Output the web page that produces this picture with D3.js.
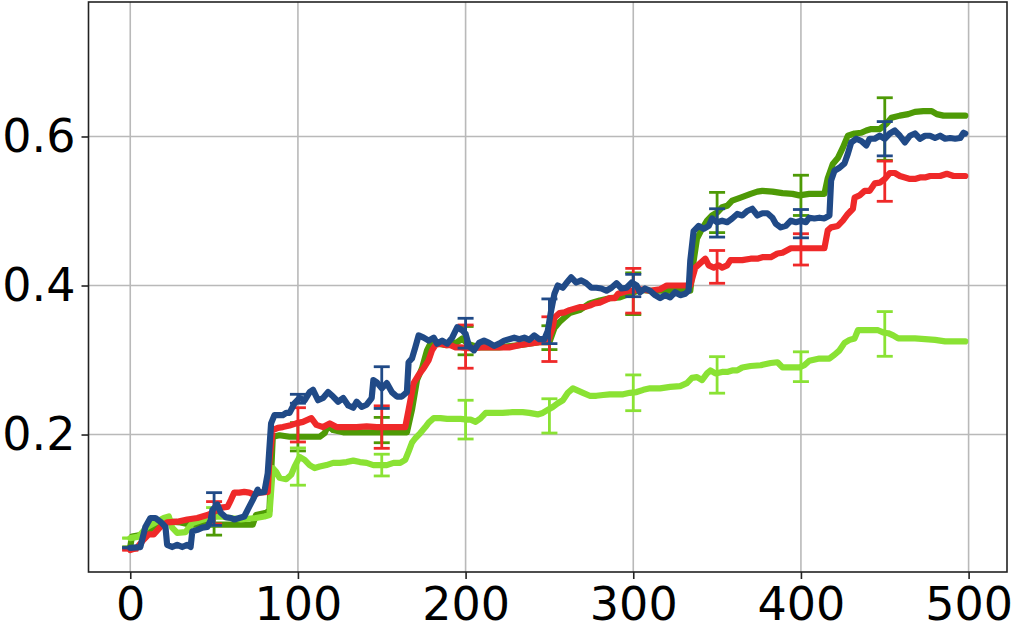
<!DOCTYPE html>
<html>
<head>
<meta charset="utf-8">
<script src="https://cdn.jsdelivr.net/npm/d3@7"></script>
<style>
  html, body { margin: 0; padding: 0; background: #fff; }
  svg { display: block; }
  text { font-family: "DejaVu Sans", sans-serif; }
</style>
</head>
<body>
<svg id="chart" width="1015" height="633"></svg>
<script>
// ---------------- data ----------------
const xTicks = [0, 100, 200, 300, 400, 500];
const yTicks = [0.2, 0.4, 0.6];

const darkGreenData = [[0,0.049],[1,0.063],[6,0.065],[10,0.069],[14,0.076],[18,0.082],[24,0.083],[30,0.082],[36,0.079],[45,0.079],[55,0.079],[65,0.079],[73,0.079],[75,0.092],[81,0.095],[83,0.098],[85,0.197],[89,0.199],[95,0.197],[101,0.197],[107,0.197],[113,0.197],[116,0.202],[118,0.212],[121,0.206],[127,0.203],[135,0.203],[143,0.203],[151,0.203],[159,0.203],[165,0.203],[168,0.233],[171,0.273],[174,0.289],[177,0.313],[179,0.322],[183,0.322],[189,0.320],[195,0.324],[198,0.329],[201,0.322],[208,0.317],[220,0.317],[232,0.320],[244,0.324],[250,0.324],[253,0.343],[256,0.351],[259,0.357],[262,0.363],[268,0.367],[274,0.376],[280,0.380],[286,0.383],[292,0.384],[298,0.389],[304,0.394],[310,0.393],[320,0.393],[334,0.393],[336,0.433],[338,0.463],[341,0.476],[344,0.487],[347,0.494],[350,0.498],[353,0.505],[356,0.507],[359,0.514],[364,0.518],[370,0.523],[374,0.526],[377,0.527],[383,0.526],[389,0.524],[395,0.523],[399,0.521],[405,0.523],[414,0.523],[416,0.544],[419,0.563],[422,0.571],[425,0.585],[428,0.601],[432,0.604],[436,0.605],[439,0.608],[442,0.610],[447,0.610],[451,0.617],[454,0.625],[459,0.628],[464,0.630],[468,0.633],[473,0.634],[478,0.634],[481,0.630],[485,0.628],[491,0.628],[498,0.628]];

const lightGreenData = [[0,0.061],[5,0.063],[10,0.076],[15,0.082],[20,0.088],[23,0.090],[25,0.075],[28,0.068],[33,0.069],[37,0.081],[42,0.085],[48,0.089],[54,0.090],[60,0.088],[66,0.086],[70,0.087],[75,0.088],[80,0.090],[83,0.092],[85,0.155],[87,0.150],[89,0.142],[93,0.140],[96,0.146],[98,0.157],[101,0.170],[104,0.166],[107,0.159],[110,0.155],[113,0.157],[117,0.159],[121,0.162],[125,0.162],[129,0.163],[133,0.165],[137,0.163],[141,0.162],[145,0.159],[149,0.159],[153,0.159],[157,0.162],[161,0.162],[164,0.166],[166,0.177],[168,0.189],[170,0.195],[173,0.202],[176,0.210],[178,0.216],[181,0.222],[185,0.222],[189,0.221],[192,0.221],[197,0.221],[201,0.220],[203,0.220],[206,0.217],[209,0.222],[212,0.229],[216,0.229],[222,0.229],[228,0.230],[234,0.230],[238,0.229],[243,0.227],[246,0.229],[249,0.233],[252,0.237],[255,0.242],[258,0.246],[261,0.256],[264,0.262],[267,0.259],[270,0.256],[274,0.252],[278,0.252],[282,0.253],[286,0.254],[290,0.254],[294,0.254],[298,0.256],[302,0.257],[306,0.260],[310,0.262],[316,0.262],[322,0.264],[328,0.265],[332,0.269],[335,0.276],[338,0.277],[341,0.273],[344,0.282],[346,0.286],[349,0.282],[353,0.284],[356,0.284],[359,0.286],[362,0.286],[365,0.290],[370,0.292],[376,0.293],[382,0.296],[386,0.297],[389,0.290],[394,0.290],[399,0.290],[402,0.293],[405,0.299],[411,0.302],[417,0.302],[420,0.307],[423,0.313],[426,0.323],[429,0.327],[432,0.329],[434,0.340],[438,0.340],[442,0.340],[446,0.340],[449,0.337],[452,0.336],[455,0.333],[458,0.329],[462,0.329],[468,0.329],[474,0.328],[480,0.327],[486,0.325],[493,0.325],[498,0.325]];

const redData = [[0,0.045],[4,0.048],[8,0.059],[11,0.066],[14,0.066],[18,0.076],[22,0.082],[28,0.083],[34,0.086],[40,0.088],[46,0.092],[49,0.095],[54,0.102],[58,0.103],[60,0.112],[62,0.122],[65,0.122],[68,0.123],[71,0.122],[74,0.119],[77,0.122],[82,0.123],[83,0.166],[85,0.206],[88,0.209],[91,0.210],[95,0.212],[99,0.215],[103,0.217],[108,0.222],[111,0.213],[115,0.210],[119,0.215],[123,0.210],[129,0.210],[135,0.210],[141,0.211],[147,0.210],[153,0.210],[159,0.210],[164,0.210],[166,0.233],[169,0.269],[172,0.280],[175,0.289],[178,0.300],[180,0.313],[182,0.320],[185,0.322],[188,0.320],[191,0.320],[194,0.317],[197,0.317],[201,0.316],[205,0.316],[209,0.317],[215,0.317],[220,0.317],[226,0.317],[232,0.320],[238,0.322],[244,0.324],[249,0.324],[252,0.344],[253,0.357],[256,0.363],[259,0.364],[262,0.367],[265,0.369],[268,0.371],[271,0.371],[274,0.373],[277,0.376],[280,0.377],[283,0.380],[286,0.383],[289,0.383],[291,0.389],[294,0.391],[297,0.393],[300,0.393],[304,0.395],[310,0.393],[316,0.395],[320,0.400],[324,0.400],[330,0.400],[334,0.400],[337,0.424],[340,0.430],[343,0.436],[345,0.427],[348,0.424],[351,0.427],[353,0.424],[356,0.427],[358,0.434],[362,0.434],[365,0.434],[370,0.436],[374,0.436],[377,0.438],[382,0.438],[386,0.443],[389,0.444],[394,0.450],[398,0.450],[401,0.450],[405,0.450],[408,0.450],[411,0.450],[414,0.450],[416,0.474],[418,0.478],[422,0.480],[425,0.487],[428,0.496],[431,0.503],[432,0.518],[435,0.521],[438,0.527],[441,0.527],[444,0.537],[447,0.538],[450,0.543],[453,0.551],[456,0.551],[459,0.547],[462,0.545],[465,0.543],[468,0.543],[471,0.545],[474,0.545],[477,0.547],[483,0.547],[487,0.550],[491,0.547],[495,0.547],[498,0.547]];

const blueData = [[0,0.048],[6,0.049],[9,0.076],[12,0.088],[15,0.088],[18,0.083],[21,0.076],[22,0.052],[25,0.049],[28,0.052],[31,0.049],[34,0.052],[36,0.049],[37,0.070],[40,0.072],[43,0.075],[46,0.076],[48,0.085],[49,0.099],[52,0.106],[54,0.095],[57,0.089],[60,0.088],[62,0.086],[65,0.088],[68,0.090],[70,0.099],[73,0.112],[76,0.126],[77,0.122],[80,0.123],[82,0.148],[84,0.215],[86,0.226],[91,0.226],[93,0.229],[95,0.229],[98,0.242],[101,0.249],[104,0.246],[107,0.257],[109,0.260],[112,0.246],[115,0.249],[118,0.257],[121,0.251],[124,0.244],[127,0.249],[130,0.239],[133,0.236],[135,0.244],[138,0.237],[141,0.240],[144,0.249],[145,0.273],[147,0.270],[150,0.262],[153,0.269],[156,0.257],[159,0.251],[162,0.251],[165,0.257],[166,0.297],[168,0.302],[170,0.317],[172,0.333],[175,0.330],[178,0.326],[181,0.330],[183,0.322],[186,0.326],[189,0.322],[192,0.330],[195,0.344],[198,0.340],[200,0.335],[202,0.319],[205,0.313],[208,0.323],[211,0.326],[214,0.323],[217,0.319],[220,0.322],[223,0.326],[226,0.328],[229,0.330],[232,0.328],[235,0.330],[238,0.327],[241,0.333],[244,0.328],[247,0.328],[249,0.339],[251,0.366],[253,0.389],[255,0.400],[258,0.397],[260,0.403],[263,0.411],[266,0.404],[269,0.407],[272,0.403],[275,0.397],[278,0.397],[281,0.396],[284,0.393],[287,0.397],[290,0.403],[293,0.396],[296,0.397],[299,0.404],[302,0.400],[304,0.391],[307,0.396],[310,0.393],[313,0.387],[316,0.383],[319,0.387],[322,0.384],[325,0.391],[328,0.387],[331,0.389],[333,0.393],[334,0.433],[336,0.473],[339,0.480],[342,0.476],[345,0.480],[347,0.490],[350,0.485],[353,0.487],[356,0.485],[359,0.490],[362,0.496],[365,0.494],[368,0.500],[371,0.503],[374,0.494],[377,0.497],[380,0.497],[383,0.491],[385,0.483],[388,0.478],[391,0.480],[394,0.487],[397,0.485],[400,0.487],[403,0.485],[405,0.491],[408,0.490],[411,0.491],[414,0.490],[417,0.494],[418,0.541],[420,0.554],[423,0.558],[426,0.564],[428,0.577],[430,0.592],[433,0.597],[436,0.594],[439,0.588],[441,0.597],[444,0.597],[447,0.601],[450,0.597],[453,0.604],[456,0.608],[459,0.601],[462,0.592],[465,0.601],[468,0.604],[471,0.597],[474,0.601],[477,0.601],[480,0.598],[483,0.601],[486,0.597],[489,0.598],[492,0.597],[495,0.598],[497,0.605],[498,0.604]];

// error bars every 50 steps
const errX = [0, 50, 100, 150, 200, 250, 300, 350, 400, 450];
const darkGreenMean = [0.049, 0.079, 0.197, 0.206, 0.326, 0.330, 0.389, 0.498, 0.521, 0.610];
const darkGreenErr  = [0, 0.014, 0.019, 0.017, 0.019, 0.016, 0.028, 0.027, 0.027, 0.042];
const lightGreenMean = [0.061, 0.090, 0.157, 0.159, 0.220, 0.225, 0.256, 0.280, 0.291, 0.335];
const lightGreenErr  = [0, 0.012, 0.025, 0.0146, 0.026, 0.023, 0.024, 0.0245, 0.020, 0.030];
const redMean = [0.045, 0.095, 0.213, 0.210, 0.318, 0.328, 0.393, 0.425, 0.4485, 0.540];
const redErr  = [0, 0.015, 0.023, 0.0285, 0.029, 0.030, 0.030, 0.022, 0.021, 0.027];
const blueMean = [0.048, 0.100, 0.248, 0.263, 0.336, 0.352, 0.400, 0.484, 0.483, 0.597];
const blueErr  = [0, 0.022, 0.006, 0.028, 0.020, 0.030, 0.015, 0.019, 0.019, 0.023];

// ---------------- drawing ----------------
const svg = d3.select("#chart");
const plotL = 88.5, plotR = 1007, plotT = 2, plotB = 572;

const x = d3.scaleLinear().domain([-24.9, 522.9]).range([plotL, plotR]);
const y = d3.scaleLinear().domain([0.0155, 0.7805]).range([plotB, plotT]);

// grid
const grid = svg.append("g");
grid.selectAll("line.vx").data(xTicks).enter().append("line")
  .attr("x1", d => x(d)).attr("x2", d => x(d))
  .attr("y1", plotT).attr("y2", plotB)
  .attr("stroke", "#b9b9b9").attr("stroke-width", 1.6);
grid.selectAll("line.hy").data(yTicks).enter().append("line")
  .attr("x1", plotL).attr("x2", plotR)
  .attr("y1", d => y(d)).attr("y2", d => y(d))
  .attr("stroke", "#b9b9b9").attr("stroke-width", 1.6);

const series = [
  { data: darkGreenData, mean: darkGreenMean, err: darkGreenErr, color: "#4e9a06" },
  { data: lightGreenData, mean: lightGreenMean, err: lightGreenErr, color: "#8ae234" },
  { data: redData, mean: redMean, err: redErr, color: "#ef2929" },
  { data: blueData, mean: blueMean, err: blueErr, color: "#204a87" }
];

const line = d3.line().x(d => x(d[0])).y(d => y(d[1]));
const capHalf = 8;

series.forEach(s => {
  const g = svg.append("g");
  g.append("path").datum(s.data)
    .attr("d", line)
    .attr("fill", "none")
    .attr("stroke", s.color)
    .attr("stroke-width", 6.2)
    .attr("stroke-linejoin", "round")
    .attr("stroke-linecap", "round");
  const eb = errX.map((xv, i) => ({ x: xv, m: s.mean[i], e: s.err[i] }));
  g.selectAll("line.bar").data(eb).enter().append("line")
    .attr("x1", d => x(d.x)).attr("x2", d => x(d.x))
    .attr("y1", d => y(d.m - d.e)).attr("y2", d => y(d.m + d.e))
    .attr("stroke", s.color).attr("stroke-width", 2.8);
  ["lo", "hi"].forEach(k => {
    g.selectAll("line.cap" + k).data(eb).enter().append("line")
      .attr("x1", d => x(d.x) - capHalf).attr("x2", d => x(d.x) + capHalf)
      .attr("y1", d => y(k === "lo" ? d.m - d.e : d.m + d.e))
      .attr("y2", d => y(k === "lo" ? d.m - d.e : d.m + d.e))
      .attr("stroke", s.color).attr("stroke-width", 2.8);
  });
});

// frame
svg.append("rect")
  .attr("x", plotL).attr("y", plotT)
  .attr("width", plotR - plotL).attr("height", plotB - plotT)
  .attr("fill", "none").attr("stroke", "#222").attr("stroke-width", 1.6);

// axes
const xAxis = d3.axisBottom(x).tickValues(xTicks).tickSize(7).tickPadding(8)
  .tickFormat(d3.format("d"));
const gx = svg.append("g").attr("transform", `translate(0,${plotB})`).call(xAxis);
gx.select(".domain").remove();
gx.selectAll(".tick line").attr("stroke", "#222").attr("stroke-width", 1.6);
gx.selectAll(".tick text").attr("font-size", 46).attr("fill", "#000")
  .attr("font-family", "DejaVu Sans, sans-serif");

const yAxis = d3.axisLeft(y).tickValues(yTicks).tickSize(7).tickPadding(6)
  .tickFormat(d3.format(".1f"));
const gy = svg.append("g").attr("transform", `translate(${plotL},0)`).call(yAxis);
gy.select(".domain").remove();
gy.selectAll(".tick line").attr("stroke", "#222").attr("stroke-width", 1.6);
gy.selectAll(".tick text").attr("font-size", 46).attr("fill", "#000")
  .attr("font-family", "DejaVu Sans, sans-serif");
</script>
</body>
</html>
